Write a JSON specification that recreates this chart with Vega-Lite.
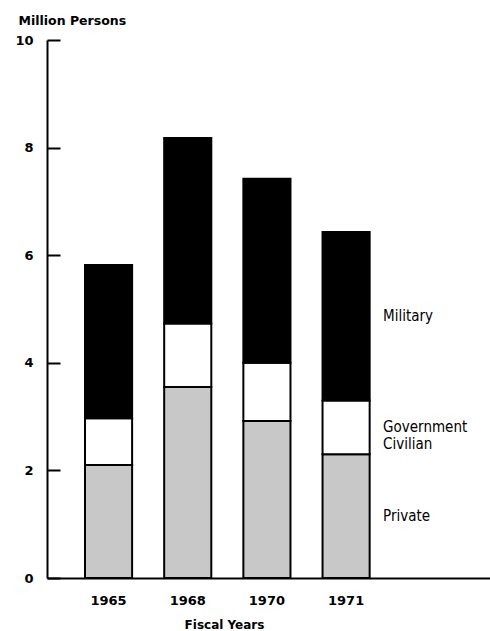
{
  "$schema": "https://vega.github.io/schema/vega-lite/v6.json",
  "width": 443,
  "height": 538,
  "autosize": "none",
  "padding": {"left": 47, "top": 40, "right": 0, "bottom": 53},
  "background": "white",
  "config": {
    "view": {"stroke": null},
    "axis": {"grid": false, "domainColor": "black", "tickColor": "black", "labelColor": "black", "titleColor": "black", "labelFont": "DejaVu Sans", "titleFont": "DejaVu Sans", "labelFontWeight": "bold", "titleFontWeight": "bold"}
  },
  "data": {
    "values": [
      {"year": "1965", "type": "Private", "order": 1, "value": 2.1},
      {"year": "1965", "type": "Government\nCivilian", "order": 2, "value": 0.87},
      {"year": "1965", "type": "Military", "order": 3, "value": 2.85},
      {"year": "1968", "type": "Private", "order": 1, "value": 3.55},
      {"year": "1968", "type": "Government\nCivilian", "order": 2, "value": 1.18},
      {"year": "1968", "type": "Military", "order": 3, "value": 3.45},
      {"year": "1970", "type": "Private", "order": 1, "value": 2.92},
      {"year": "1970", "type": "Government\nCivilian", "order": 2, "value": 1.08},
      {"year": "1970", "type": "Military", "order": 3, "value": 3.42},
      {"year": "1971", "type": "Private", "order": 1, "value": 2.3},
      {"year": "1971", "type": "Government\nCivilian", "order": 2, "value": 1.0},
      {"year": "1971", "type": "Military", "order": 3, "value": 3.13}
    ]
  },
  "transform": [
    {"stack": "value", "groupby": ["year"], "sort": [{"field": "order", "order": "ascending"}], "as": ["v0", "v1"]},
    {"calculate": "(datum.v0 + datum.v1) / 2", "as": "mid"}
  ],
  "encoding": {
    "x": {
      "field": "year", "type": "nominal",
      "scale": {"paddingInner": 0.405, "paddingOuter": 1.006, "align": 0.24},
      "axis": {"title": "Fiscal Years", "labelAngle": 0, "ticks": false, "domainWidth": 2, "labelPadding": 16, "labelFontSize": 13, "titleFontSize": 12, "titlePadding": 12, "titleX": 177, "titleAnchor": null}
    }
  },
  "layer": [
    {
      "mark": {"type": "bar", "stroke": "black", "strokeWidth": 2},
      "encoding": {
        "y": {
          "field": "v0", "type": "quantitative",
          "scale": {"domain": [0, 10]},
          "axis": {"values": [0, 2, 4, 6, 8, 10], "tickSize": -13, "tickWidth": 2, "domainWidth": 2, "labelPadding": 27, "labelFontSize": 13, "title": "Million Persons", "titleAngle": 0, "titleAlign": "left", "titleBaseline": "middle", "titleX": -29, "titleY": -20, "titleFontSize": 12.5}
        },
        "y2": {"field": "v1"},
        "fill": {
          "field": "type", "type": "nominal",
          "scale": {"domain": ["Private", "Government\nCivilian", "Military"], "range": ["#c8c8c8", "#ffffff", "#000000"]},
          "legend": null
        }
      }
    },
    {
      "transform": [{"filter": "datum.year == '1971'"}],
      "mark": {"type": "text", "align": "left", "baseline": "middle", "dx": 37, "font": "DejaVu Sans Condensed", "fontSize": 15, "lineBreak": "\n", "lineHeight": 17, "color": "black"},
      "encoding": {
        "y": {"field": "mid", "type": "quantitative"},
        "text": {"field": "type"}
      }
    }
  ]
}
